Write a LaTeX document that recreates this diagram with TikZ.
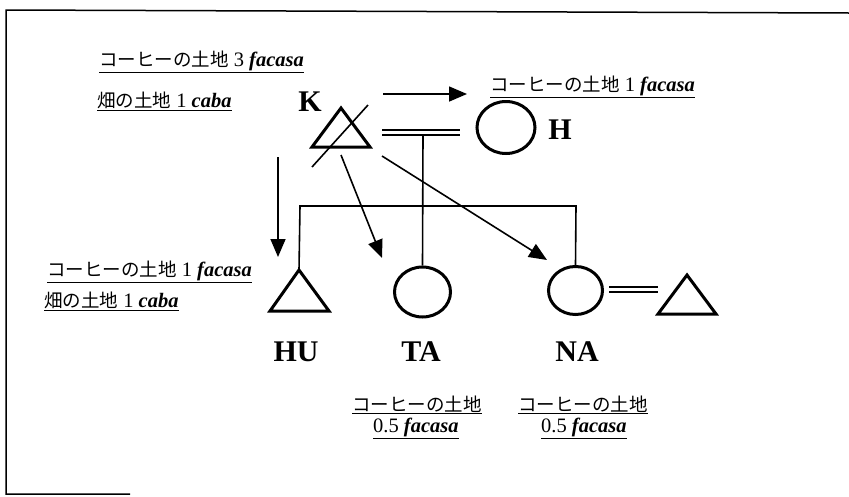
\documentclass[tikz,border=0pt]{standalone}
\usepackage{fontspec}
\setmainfont{Liberation Serif}
\newfontfamily\cjkf{Noto Sans CJK JP}
\usetikzlibrary{arrows.meta,shapes.geometric}
\newcommand{\fw}[1]{\textbf{\textit{#1}}}
\newcommand{\jp}[1]{{\fontsize{18.5}{20}\cjkf #1}}
\begin{document}
\begin{tikzpicture}[x=1pt,y=-1pt,
  sym/.style={line width=3pt,line join=miter},
  ln/.style={line width=1.6pt},
  arr/.style={line width=1.6pt,-{Triangle[length=18pt,width=15pt]}},
  circ/.style={ellipse,draw,line width=3pt,inner sep=0pt},
  big/.style={font=\fontsize{30}{31}\selectfont\bfseries,inner sep=0pt},
  lab/.style={font=\fontsize{20.5}{22}\selectfont,inner sep=0pt,anchor=base west}]
\useasboundingbox (0,0) rectangle (849,496);
% frame
\coordinate (f1) at (6,494);
\coordinate (f2) at (6,10);
\coordinate (f3) at (849,13);
\coordinate (f4) at (130,494);
\draw[line width=1.5pt] (f4) -- (f1) -- (f2) -- (f3);
% K triangle
\coordinate (Ka) at (341,108);
\coordinate (Kl) at (312,147);
\coordinate (Kr) at (370,147);
\draw[sym] (Ka) -- (Kl) -- (Kr) -- cycle;
\coordinate (s1) at (312,167);
\coordinate (s2) at (368,105);
\draw[ln] (s1) -- (s2);
\node[big] (K) at (310,102) {K};
% H circle
\node[circ,minimum width=58pt,minimum height=52pt] (Hc) at (506,127.5) {};
\node[big] (H) at (560,130) {H};
% HU triangle
\coordinate (HUa) at (299,270);
\coordinate (HUl) at (270,311);
\coordinate (HUr) at (329,311);
\draw[sym] (HUa) -- (HUl) -- (HUr) -- cycle;
\node[big] (HU) at (296,352) {HU};
% TA circle
\node[circ,minimum width=56pt,minimum height=50pt] (TAc) at (422.5,292) {};
\node[big] (TA) at (421,352) {TA};
% NA circle
\node[circ,minimum width=54pt,minimum height=48pt] (NAc) at (575.5,290.5) {};
\node[big] (NA) at (577,352) {NA};
% spouse triangle
\coordinate (Sa) at (687,275);
\coordinate (Sl) at (658,314);
\coordinate (Sr) at (716,314);
\draw[sym] (Sa) -- (Sl) -- (Sr) -- cycle;
% marriage K = H
\coordinate (m1) at (382,130);
\coordinate (m2) at (460,130);
\coordinate (m3) at (382,135);
\coordinate (m4) at (460,135);
\draw[ln] (m1) -- (m2);
\draw[ln] (m3) -- (m4);
\coordinate (d1) at (423,135);
\draw[ln] (d1) -- (TAc.north);
% sibling line
\coordinate (b1) at (300,206);
\coordinate (b2) at (576,206);
\draw[ln] (HUa) -- (b1) -- (b2) -- (NAc.north);
% marriage NA = spouse
\coordinate (n1) at (609,287);
\coordinate (n2) at (658,287);
\coordinate (n3) at (609,292);
\coordinate (n4) at (658,292);
\draw[ln] (n1) -- (n2);
\draw[ln] (n3) -- (n4);
% arrows
\coordinate (a1) at (383,94);
\coordinate (a2) at (467,94);
\draw[arr] (a1) -- (a2);
\coordinate (a3) at (278,157);
\coordinate (a4) at (278,257);
\draw[arr] (a3) -- (a4);
\coordinate (a5) at (341,155);
\coordinate (a6) at (382,258);
\draw[arr] (a5) -- (a6);
\coordinate (a7) at (382,156);
\coordinate (a8) at (547,260);
\draw[arr] (a7) -- (a8);
% labels
\node[lab] (L1) at (99,66) {\underline{\jp{コーヒーの土地} 3 \fw{facasa}}};
\node[lab] (L2) at (97,107) {\underline{\jp{畑の土地} 1 \fw{caba}}};
\node[lab] (L3) at (490,91) {\underline{\jp{コーヒーの土地} 1 \fw{facasa}}};
\node[lab] (L4) at (47,276) {\underline{\jp{コーヒーの土地} 1 \fw{facasa}}};
\node[lab] (L5) at (44,307) {\underline{\jp{畑の土地} 1 \fw{caba}}};
\node[lab] (L6) at (352,411) {\underline{\jp{コーヒーの土地}}};
\node[lab] (L7) at (373,432) {\underline{0.5 \fw{facasa}}};
\node[lab] (L8) at (518,411) {\underline{\jp{コーヒーの土地}}};
\node[lab] (L9) at (541,432) {\underline{0.5 \fw{facasa}}};
\end{tikzpicture}
\end{document}
